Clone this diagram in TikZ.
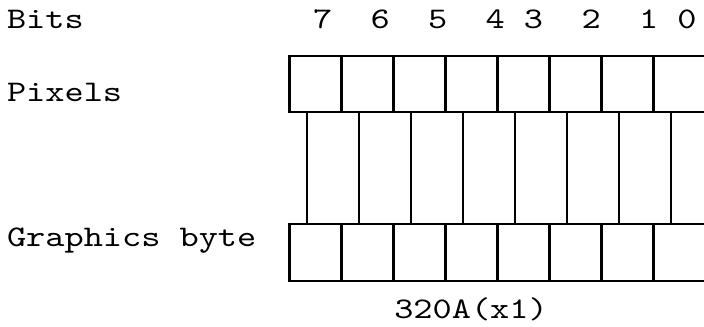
\documentclass[tikz,border=0pt]{standalone}
\usepackage{fontspec}
\setmonofont{lmmono10-regular}[Extension=.otf, FakeStretch=1.22]

\tikzset{lbl/.style={font=\ttfamily\fontsize{21.3}{25}\selectfont, inner sep=0pt}}

\begin{document}
\begin{tikzpicture}[line width=1.5pt]
\useasboundingbox (0,0) rectangle (17.6,8.175);

\node[lbl,anchor=base west] (bits) at (0.15,7.4675) {Bits};
\node[lbl,anchor=base west] (pixels) at (0.15,5.6325) {Pixels};
\node[lbl,anchor=base west] (gbyte) at (0.15,2.0075) {Graphics byte};
\node[lbl,anchor=base west] (bitnums) at (7.80,7.4675) {7~~6~~5~~4~3~~2~~1~0};

% pixel row and byte row
\foreach \x in {0,...,7} {
  \draw (7.2375+1.3*\x,5.375) rectangle ++(1.3,1.4);
  \draw (7.2375+1.3*\x,1.15) rectangle ++(1.3,1.425);
}

% shifted lines in between
\foreach \x in {0,...,7}
  \draw (7.68+1.3*\x,5.375) -- (7.68+1.3*\x,2.575);

\node[lbl,anchor=base] (addr) at (11.775,0.2175) {320A(x1)};
\end{tikzpicture}
\end{document}
